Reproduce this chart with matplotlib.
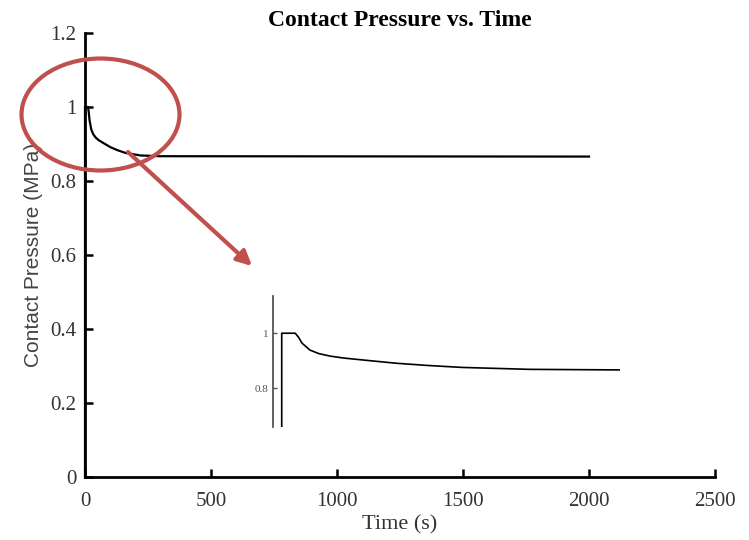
import numpy as np
import matplotlib
matplotlib.use('Agg')
import matplotlib.pyplot as plt
from matplotlib.patches import Ellipse
from matplotlib.ticker import FormatStrFormatter

# contact pressure curve
time_s = [0, 0, 12, 15, 18, 25, 33, 43, 55, 72, 102, 130, 160, 220, 300, 2000]
pressure_mpa = [0, 1.0, 1.0, 0.985, 0.964, 0.939, 0.926, 0.917, 0.910, 0.903,
                0.891, 0.883, 0.876, 0.869, 0.867, 0.866]

x_ticks = [0, 500, 1000, 1500, 2000, 2500]
y_ticks = [0, 0.2, 0.4, 0.6, 0.8, 1.0, 1.2]
inset_ticks = [0.8, 1.0]

W, H = 749, 540
fig = plt.figure(figsize=(W / 100, H / 100), dpi=100)
serif = 'Liberation Serif'

# main axes
ax = fig.add_axes([85 / W, 1 - 477 / H, 630 / W, 444 / H])
ax.plot(time_s, pressure_mpa, color='black', lw=1.6, clip_on=False)
ax.set_xlim(0, 2500)
ax.set_ylim(0, 1.2)
ax.set_xticks(x_ticks)
ax.set_yticks(y_ticks)
ax.yaxis.set_major_formatter(FormatStrFormatter('%g'))
for side in ['top', 'right']:
    ax.spines[side].set_visible(False)
for side in ['left', 'bottom']:
    ax.spines[side].set_linewidth(2.0)
ax.tick_params(direction='in', length=6, width=1.8, labelsize=15, pad=6,
               labelcolor='#333333')
ax.tick_params(axis='x', pad=11)
for lab in ax.get_xticklabels() + ax.get_yticklabels():
    lab.set_fontfamily(serif)
ax.set_title('Contact Pressure vs. Time', fontfamily=serif, fontweight='bold',
             fontsize=17, pad=5)
ax.set_xlabel('Time (s)', fontfamily=serif, fontsize=16, color='#333333', labelpad=3)
ax.set_ylabel('Contact Pressure (MPa)', fontfamily='Liberation Sans', fontsize=15,
              color='#444444')
ax.yaxis.set_label_coords(-42 / 630, 0.5)

# inset zoom of the first few hundred seconds
ins = fig.add_axes([272.7 / W, 1 - 427 / H, 347.3 / W, 131 / H])
ins.plot(time_s, pressure_mpa, color='black', lw=1.2)
ins.set_xlim(-8, 300)
ins.set_ylim(0.66, 1.135)
ins.set_yticks(inset_ticks)
ins.yaxis.set_major_formatter(FormatStrFormatter('%g'))
ins.set_xticks([])
for side in ['top', 'right', 'bottom']:
    ins.spines[side].set_visible(False)
ins.spines['left'].set_linewidth(1.3)
ins.spines['left'].set_color('#555555')
ins.tick_params(direction='in', length=3, width=1.0, labelsize=8, pad=3,
                labelcolor='#555555', color='#555555')
for lab in ins.get_yticklabels():
    lab.set_fontfamily(serif)
ins.patch.set_alpha(0)

# red callout: ellipse and arrow in pixel space
ov = fig.add_axes([0, 0, 1, 1])
ov.set_xlim(0, W)
ov.set_ylim(H, 0)
ov.axis('off')
ov.patch.set_alpha(0)
red = '#C0504D'
ov.add_patch(Ellipse((100.5, 114.5), 158, 112, fill=False, edgecolor=red, lw=3.0))
ov.annotate('', xy=(252, 266), xytext=(128, 152),
            arrowprops=dict(arrowstyle='-|>', color=red, lw=3.0, mutation_scale=22,
                            shrinkA=0, shrinkB=0))

fig.savefig('out.png', dpi=100)
